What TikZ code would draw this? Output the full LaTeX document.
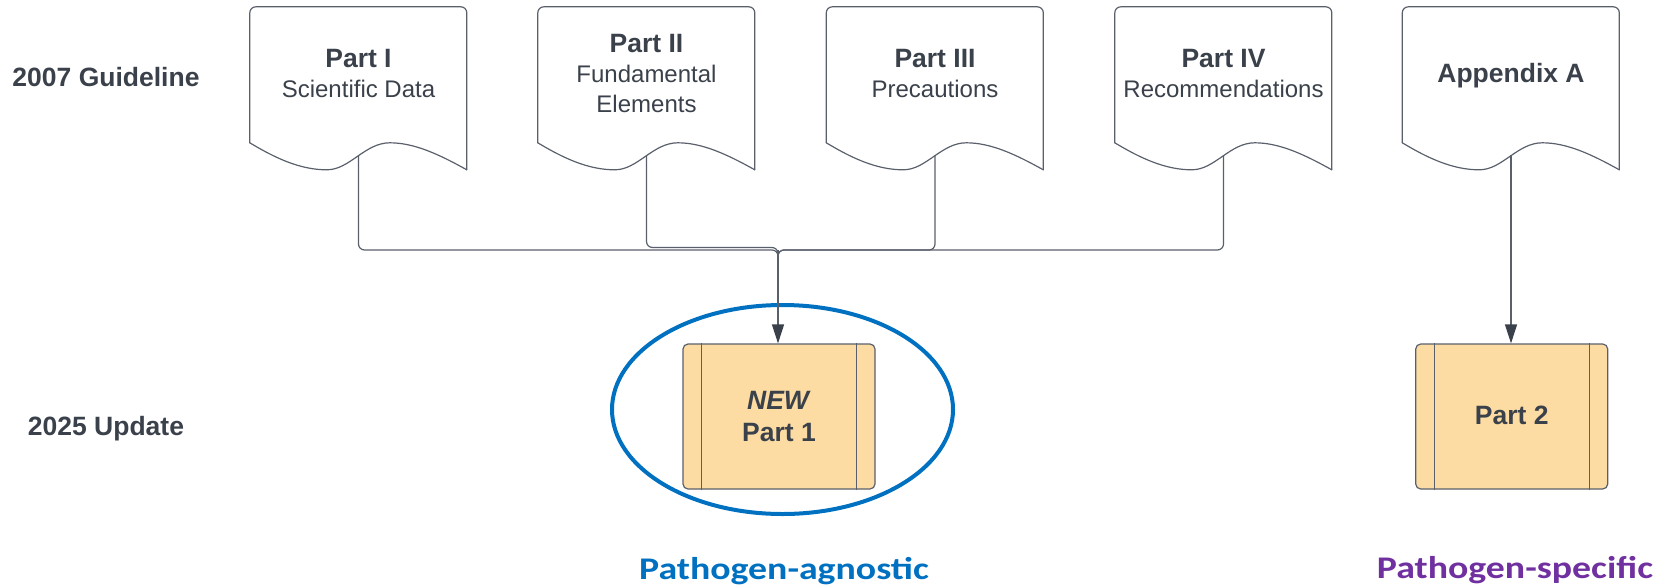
\documentclass[tikz,border=0pt]{standalone}
\usepackage{fontspec}
\setmainfont{Liberation Sans}
\newfontfamily\calib[FakeStretch=1.2]{Carlito}
\usetikzlibrary{arrows.meta,calc,shapes.geometric}
\definecolor{txt}{HTML}{3A414A}
\definecolor{ln}{HTML}{5A606B}
\definecolor{boxfill}{HTML}{FDDCA3}
\definecolor{blueC}{HTML}{0070C0}
\definecolor{purp}{HTML}{7030A0}
\newcommand\bfs{\fontsize{26.5}{30}\selectfont\bfseries}
\newcommand\docshape[1]{%
  \begin{scope}[shift={(#1.north west)}]
    \draw[docline, rounded corners=6pt] (217,163) -- (217,0) -- (0,0) -- (0,136);
    \draw[docline] (0,136) .. controls (25,151) and (50,163) .. (77,163)
      .. controls (100,163) and (115,136) .. (140,136)
      .. controls (165,136) and (190,148) .. (217,163);
  \end{scope}}
\newcommand\pboxlines[1]{%
  \draw[boxline] ([xshift=19pt]#1.north west) -- ([xshift=19pt]#1.south west);
  \draw[boxline] ([xshift=-19pt]#1.north east) -- ([xshift=-19pt]#1.south east);}
\tikzset{
  docline/.style={draw=ln, line width=1.2pt, line cap=round, line join=round},
  docbox/.style={rectangle, minimum width=217pt, minimum height=163pt, inner sep=0pt},
  dtext/.style={align=center, text=txt, font=\fontsize{24}{30}\selectfont, inner sep=0pt},
  pbox/.style={rectangle, rounded corners=5pt, fill=boxfill, draw=ln, line width=1.2pt,
    minimum width=192pt, minimum height=145pt, align=center, text=txt,
    font=\fontsize{26.5}{32}\selectfont\bfseries},
  boxline/.style={draw=ln, line width=1.2pt},
  conn/.style={draw=ln, line width=1.2pt},
  arr/.style={conn, -{Triangle[width=12pt,length=19pt,color=txt]}},
  rowlabel/.style={text=txt, font=\bfs, anchor=base, inner sep=0pt},
  cat/.style={font=\calib\fontsize{31.5}{34}\selectfont\bfseries, anchor=base, inner sep=0pt}
}
\begin{document}
\begin{tikzpicture}[x=1pt, y=-1pt]
\useasboundingbox (0,0) rectangle (1665,587);

% row labels
\node[rowlabel] (g2007) at (106,86.7) {2007 Guideline};
\node[rowlabel] (u2025) at (106,435) {2025 Update};

% document shapes
\node[docbox] (d1) at (358.5,88.5) {};
\node[docbox] (d2) at (646.5,88.5) {};
\node[docbox] (d3) at (935,88.5) {};
\node[docbox] (d4) at (1223.5,88.5) {};
\node[docbox] (d5) at (1511,88.5) {};
\docshape{d1}\docshape{d2}\docshape{d3}\docshape{d4}\docshape{d5}

\node[dtext] (t1) at (358.5,73) {{\bfs Part I}\\Scientific Data};
\node[dtext] (t2) at (646.5,73) {{\bfs Part II}\\Fundamental\\Elements};
\node[dtext] (t3) at (935,73) {{\bfs Part III}\\Precautions};
\node[dtext] (t4) at (1223.5,73) {{\bfs Part IV}\\Recommendations};
\node[dtext] (t5) at (1511,76) {{\bfs Appendix A}};

% ellipse highlight
\node[draw=blueC, line width=4pt, ellipse, minimum width=341pt, minimum height=209pt, inner sep=0pt] (hl) at (782.5,409.5) {};

% new boxes
\node[pbox] (p1) at (779,416.5) {\textit{NEW}\\Part 1};
\node[pbox] (p2) at (1511.7,416.5) {\raisebox{2.5pt}{Part 2}};
\pboxlines{p1}\pboxlines{p2}

% connectors
\coordinate (j) at (778,250);
\coordinate (c1) at ([yshift=15pt]d1.south);
\coordinate (c2) at ([yshift=15pt]d2.south);
\coordinate (c3) at ([yshift=15pt]d3.south);
\coordinate (c4) at ([yshift=15pt]d4.south);
\coordinate (c5) at ([yshift=15pt]d5.south);
\draw[conn, rounded corners=6pt] (c1) |- (j) -- ++(0,14);
\draw[conn, rounded corners=6pt] (c2) |- ($(j)+(0,-2.5)$) -- ++(0,16);
\draw[conn, rounded corners=6pt] (c3) |- (j) -- ++(0,14);
\draw[conn, rounded corners=6pt] (c4) |- (j) -- ++(0,14);
\draw[arr] (j) -- (j |- p1.north);
\draw[arr] (c5) -- (c5 |- p2.north);

% category labels
\node[cat, text=blueC] (agn) at (784,579.3) {Pathogen-agnostic};
\node[cat, text=purp] (spec) at (1515,578.3) {Pathogen-specific};
\end{tikzpicture}
\end{document}
